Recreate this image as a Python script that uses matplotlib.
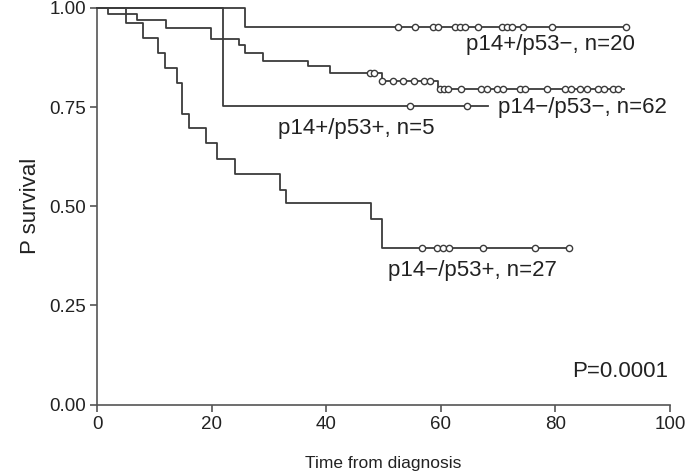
#!/usr/bin/env python3
# Kaplan-Meier style survival curves, p14/p53 groups
import matplotlib
matplotlib.use("Agg")
import matplotlib.pyplot as plt

plt.rcParams['font.family'] = ['Liberation Sans', 'DejaVu Sans']

# p14+/p53-, n=20
t_a = [0, 25.8]
s_a = [1.0, 0.952]
cens_a = [52.5, 55.5, 58.6, 59.5, 62.5, 63.4, 64.2, 66.5, 70.7, 71.6, 72.4, 74.3, 79.4, 92.3]
end_a = 92.3

# p14-/p53-, n=62
t_b = [0, 1.85, 6.9, 12.1, 19.9, 24.7, 25.8, 29.0, 36.9, 40.7, 49.7, 59.5]
s_b = [1.0, 0.985, 0.970, 0.950, 0.921, 0.907, 0.886, 0.867, 0.854, 0.837, 0.817, 0.795]
cens_b = [47.6, 48.3, 49.8, 51.6, 53.4, 55.4, 57.1, 58.1,
          59.9, 60.6, 61.3, 63.6, 67.1, 68.0, 69.8, 70.9, 73.8, 74.7,
          78.5, 81.7, 82.8, 84.3, 85.5, 87.5, 88.4, 90.1, 91.0]
end_b = 91.9

# p14+/p53+, n=5
t_c = [0, 21.9]
s_c = [1.0, 0.752]
cens_c = [54.6, 64.6]
end_c = 68.2

# p14-/p53+, n=27
t_d = [0, 5.05, 8.1, 10.7, 11.9, 13.9, 14.9, 16.1, 19.0, 20.9, 24.0, 31.9, 33.0, 47.8, 49.7]
s_d = [1.0, 0.963, 0.924, 0.886, 0.849, 0.812, 0.733, 0.697, 0.659, 0.618, 0.581,
       0.541, 0.507, 0.468, 0.394]
cens_d = [56.7, 59.4, 60.4, 61.4, 67.4, 76.4, 82.4]
end_d = 82.4

labels = ["p14+/p53\u2212, n=20", "p14\u2212/p53\u2212, n=62", "p14+/p53+, n=5", "p14\u2212/p53+, n=27"]
label_pos = [(64.4, 0.909), (70.0, 0.748), (31.6, 0.697), (50.8, 0.339)]


def level_at(t, times, levels):
    s = levels[0]
    for ti, si in zip(times, levels):
        if t >= ti:
            s = si
    return s


fig = plt.figure(figsize=(6.94, 4.76), dpi=100)
ax = fig.add_axes([0.1398, 0.1502, 0.8256, 0.8330])

color = "#3c3c3c"
groups = [(t_a, s_a, cens_a, end_a), (t_b, s_b, cens_b, end_b),
          (t_c, s_c, cens_c, end_c), (t_d, s_d, cens_d, end_d)]
for times, levels, cens, end in groups:
    xs = list(times) + [end]
    ys = list(levels) + [levels[-1]]
    ax.step(xs, ys, where="post", color=color, lw=1.3, clip_on=False, zorder=3)
    cy = [level_at(c, times, levels) for c in cens]
    ax.plot(cens, cy, "o", ms=4.5, mfc="white", mec=color, mew=1.0,
            clip_on=False, zorder=4)

for (x, y), lab in zip(label_pos, labels):
    ax.text(x, y, lab, fontsize=16, color="#222222", va="center", ha="left")
ax.text(99.6, 0.082, "P=0.0001", fontsize=16, color="#222222", va="center", ha="right")

ax.set_xlim(0, 100)
ax.set_ylim(0, 1)
ax.set_xticks([0, 20, 40, 60, 80, 100])
ax.set_yticks([0, 0.25, 0.5, 0.75, 1.0])
ax.set_yticklabels(["0.00", "0.25", "0.50", "0.75", "1.00"])
ax.spines["top"].set_visible(False)
ax.spines["right"].set_visible(False)
for s in ["left", "bottom"]:
    ax.spines[s].set_color("#555555")
    ax.spines[s].set_linewidth(1.2)
ax.tick_params(direction="out", length=5, width=1.2, color="#555555",
               labelsize=13.5, labelcolor="#222222", pad=3)
ax.set_ylabel("P survival", fontsize=16, color="#222222", labelpad=6)
ax.set_xlabel("Time from diagnosis", fontsize=12.5, color="#222222", labelpad=17)

fig.savefig("out.png", dpi=100)
